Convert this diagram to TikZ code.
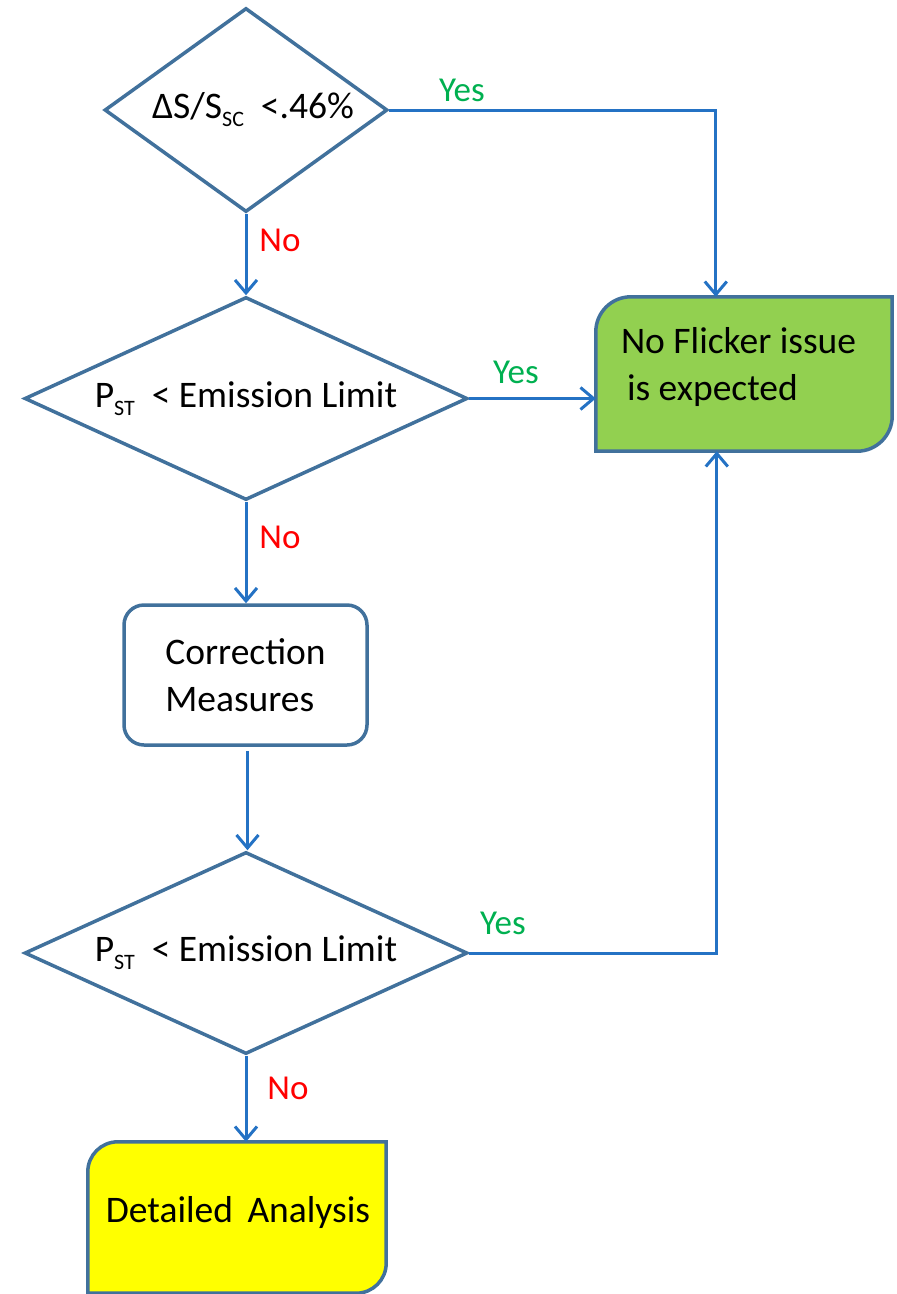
\documentclass[tikz,border=0pt]{standalone}
\usepackage{fontspec}
\setmainfont{Carlito}
\usetikzlibrary{shapes.geometric,arrows.meta,calc}
\definecolor{shapeblue}{RGB}{65,113,156}
\definecolor{linkblue}{RGB}{36,114,196}
\definecolor{yesgreen}{RGB}{0,176,80}
\definecolor{boxgreen}{RGB}{146,208,80}
\definecolor{boxyellow}{RGB}{255,255,0}
\newcommand\lowsub[1]{\raisebox{-8pt}{\fontsize{22}{22}\selectfont #1}}
\begin{document}
\begin{tikzpicture}[x=1pt,y=-1pt,
  every node/.style={font=\fontsize{37.5}{47}\selectfont},
  decision/.style={diamond, draw=shapeblue, line width=3.5pt, inner sep=0pt},
  plainbox/.style={draw=none, inner sep=0pt},
  outline/.style={draw=shapeblue, line width=3.5pt},
  link/.style={draw=linkblue, line width=3pt, -{Straight Barb[length=13pt,width=22pt]}},
  yeslabel/.style={text=yesgreen, font=\fontsize{35}{40}\selectfont},
  nolabel/.style={text=red, font=\fontsize{35}{40}\selectfont}]
\useasboundingbox (0,0) rectangle (897,1294);

% decisions
\node[decision, aspect=1.39, minimum width=283pt, minimum height=204pt] (d1) at (246,110) {\hspace{14pt}ΔS/S\lowsub{SC}\ \ <.46\%};
\node[decision, aspect=2.18, minimum width=443pt, minimum height=203pt] (d2) at (246,398.5) {P\lowsub{ST}\ \ < Emission Limit\hspace{10pt}};
\node[decision, aspect=2.18, minimum width=443pt, minimum height=202pt] (d3) at (246,953) {P\lowsub{ST}\ \ < Emission Limit\hspace{10pt}};

% correction box
\node[outline, rounded corners=20pt, minimum width=243pt, minimum height=140pt, align=left] (c) at (245.5,675) {Correction\\Measures};

% green result box
\node[plainbox, minimum width=296pt, minimum height=154pt] (g) at (744,374) {};
\path[outline, fill=boxgreen] (g.north east) -- ($(g.south east)+(0,-35)$)
  .. controls ($(g.south east)+(0,-15.7)$) and ($(g.south east)+(-15.7,0)$) .. ($(g.south east)+(-35,0)$)
  -- (g.south west) -- ($(g.north west)+(0,35)$)
  .. controls ($(g.north west)+(0,15.7)$) and ($(g.north west)+(15.7,0)$) .. ($(g.north west)+(35,0)$)
  -- cycle;
\node[anchor=west, align=left, inner sep=0pt] (gt) at ($(g.west)+(25,-7)$) {No Flicker issue\\\hspace{6pt}is expected};

% yellow result box
\node[plainbox, minimum width=298pt, minimum height=151pt] (y) at (237,1217.5) {};
\path[outline, fill=boxyellow] (y.north east) -- ($(y.south east)+(0,-30)$)
  .. controls ($(y.south east)+(0,-13.4)$) and ($(y.south east)+(-13.4,0)$) .. ($(y.south east)+(-30,0)$)
  -- (y.south west) -- ($(y.north west)+(0,30)$)
  .. controls ($(y.north west)+(0,13.4)$) and ($(y.north west)+(13.4,0)$) .. ($(y.north west)+(30,0)$)
  -- cycle;
\node[inner sep=0pt] (yt) at (238,1212) {Detailed\hspace{6pt} Analysis};

% connectors
\coordinate (gtop) at ($(g.north west)+(120,0)$);
\coordinate (gbot) at ($(g.south west)+(121,0)$);
\draw[link] (d1.south) -- (d2.north);
\draw[link] (d1.east) -| (gtop);
\draw[link] (d2.east) -- (d2.east -| g.west);
\draw[link] (d2.south) -- (d2.south |- c.north);
\draw[link, shorten <=4pt] ($(c.south)+(2,0)$) coordinate (cs) -- (cs |- d3.north);
\draw[link] (d3.east) -| (gbot);
\draw[link] (d3.south) -- (d3.south |- y.north);

% labels
\node[yeslabel] (l1) at (462,90) {Yes};
\node[nolabel] (l2) at (280,240) {No};
\node[yeslabel] (l3) at (516,372) {Yes};
\node[nolabel] (l4) at (280,537) {No};
\node[yeslabel] (l5) at (503,923) {Yes};
\node[nolabel] (l6) at (288,1088) {No};
\end{tikzpicture}
\end{document}
